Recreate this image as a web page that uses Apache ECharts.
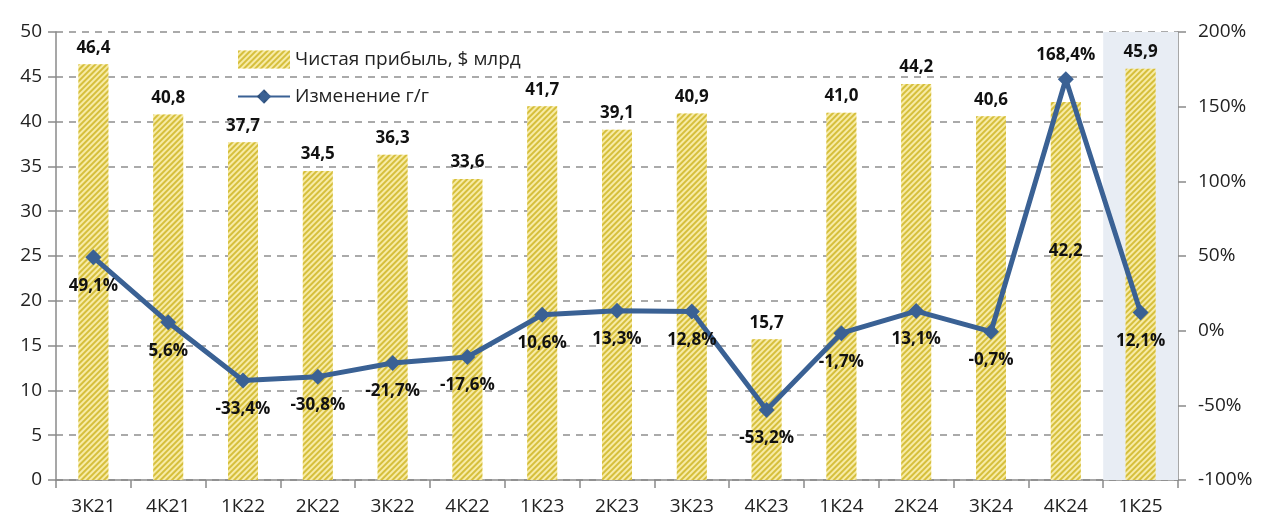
<!DOCTYPE html>
<html>
<head>
    <meta charset="utf-8">
    <title>Чистая прибыль</title>
    <script src="https://cdn.jsdelivr.net/npm/echarts@6/dist/echarts.min.js"></script>
    <style>
        html, body { margin: 0; padding: 0; background: #fff; }
    </style>
</head>
<body>
    <div id="chart" style="width: 1280px;height:531px;"></div>

    <script>
        // данные
        const quarters = ['3К21', '4К21', '1К22', '2К22', '3К22', '4К22', '1К23', '2К23', '3К23', '4К23', '1К24', '2К24', '3К24', '4К24', '1К25'];
        const profit = [46.4, 40.8, 37.7, 34.5, 36.3, 33.6, 41.7, 39.1, 40.9, 15.7, 41.0, 44.2, 40.6, 42.2, 45.9];
        const yoy = [49.1, 5.6, -33.4, -30.8, -21.7, -17.6, 10.6, 13.3, 12.8, -53.2, -1.7, 13.1, -0.7, 168.4, 12.1];
        const highlighted = '1К25';

        const fontFamily = '"Open Sans", "Noto Sans", sans-serif';
        const comma = v => v.toFixed(1).replace('.', ',');

        const chart = echarts.init(document.getElementById('chart'));

        const hatch = {
            symbol: 'rect',
            symbolSize: 1,
            color: '#d6bf3c',
            dashArrayX: [1, 0],
            dashArrayY: [2, 2],
            rotation: -Math.PI / 4
        };

        // подпись 4К24 стоит внутри столбика
        const barData = profit.map((v, i) => {
            if (quarters[i] === '4К24') {
                return { value: v, label: { position: 'inside', offset: [0, -40] } };
            }
            return v;
        });

        // пик 4К24 подписан сверху
        const lineData = yoy.map((v, i) => {
            if (quarters[i] === '4К24') {
                return { value: v, label: { position: 'top', distance: 8 } };
            }
            return v;
        });

        const option = {
            textStyle: { fontFamily: fontFamily },
            aria: { enabled: true, decal: { show: true } },
            legend: {
                orient: 'vertical',
                left: 232,
                top: 45,
                itemGap: 18,
                itemWidth: 52,
                itemHeight: 18,
                textStyle: { fontSize: 19, color: '#222', fontFamily: fontFamily },
                data: [
                    { name: 'Чистая прибыль, $ млрд', icon: 'rect' },
                    { name: 'Изменение г/г' }
                ]
            },
            grid: { left: 56, right: 102, top: 32, bottom: 51 },
            xAxis: {
                type: 'category',
                data: quarters,
                axisLine: { lineStyle: { color: '#8a8a8a', width: 1.5 } },
                axisTick: { show: true, length: 8, lineStyle: { color: '#8a8a8a', width: 1.5 } },
                axisLabel: { fontSize: 19, color: '#222', margin: 17 }
            },
            yAxis: [
                {
                    type: 'value',
                    min: 0,
                    max: 50,
                    interval: 5,
                    axisLine: { show: true, lineStyle: { color: '#8a8a8a', width: 1.5 } },
                    axisTick: { show: true, length: 8, lineStyle: { color: '#8a8a8a', width: 1.5 } },
                    axisLabel: { fontSize: 19, color: '#222', margin: 14 },
                    splitLine: { lineStyle: { color: '#8f8f8f', type: [7, 6], width: 1.5 } }
                },
                {
                    type: 'value',
                    min: -100,
                    max: 200,
                    interval: 50,
                    position: 'right',
                    axisLine: { show: true, lineStyle: { color: '#8a8a8a', width: 1.5 } },
                    axisTick: { show: true, length: 8, lineStyle: { color: '#8a8a8a', width: 1.5 } },
                    axisLabel: { fontSize: 19, color: '#222', margin: 20, formatter: '{value}%' },
                    splitLine: { show: false }
                }
            ],
            series: [
                {
                    name: 'Чистая прибыль, $ млрд',
                    type: 'bar',
                    data: barData,
                    barWidth: 30,
                    itemStyle: { color: '#f7eba6', decal: hatch },
                    label: {
                        show: true,
                        position: 'top',
                        distance: 8,
                        fontSize: 17,
                        fontWeight: 'bold',
                        color: '#111',
                        formatter: p => comma(p.value)
                    },
                    markArea: {
                        silent: true,
                        itemStyle: { color: '#e8edf4' },
                        data: [[{ xAxis: highlighted }, { xAxis: highlighted }]]
                    },
                    z: 2
                },
                {
                    name: 'Изменение г/г',
                    type: 'line',
                    yAxisIndex: 1,
                    data: lineData,
                    symbol: 'diamond',
                    symbolSize: 16,
                    lineStyle: { color: '#3a6194', width: 5 },
                    itemStyle: { color: '#3a6194' },
                    label: {
                        show: true,
                        position: 'bottom',
                        distance: 12,
                        fontSize: 17,
                        fontWeight: 'bold',
                        color: '#111',
                        formatter: p => comma(p.value) + '%'
                    },
                    z: 5
                }
            ]
        };

        chart.setOption(option);
    </script>
</body>
</html>
